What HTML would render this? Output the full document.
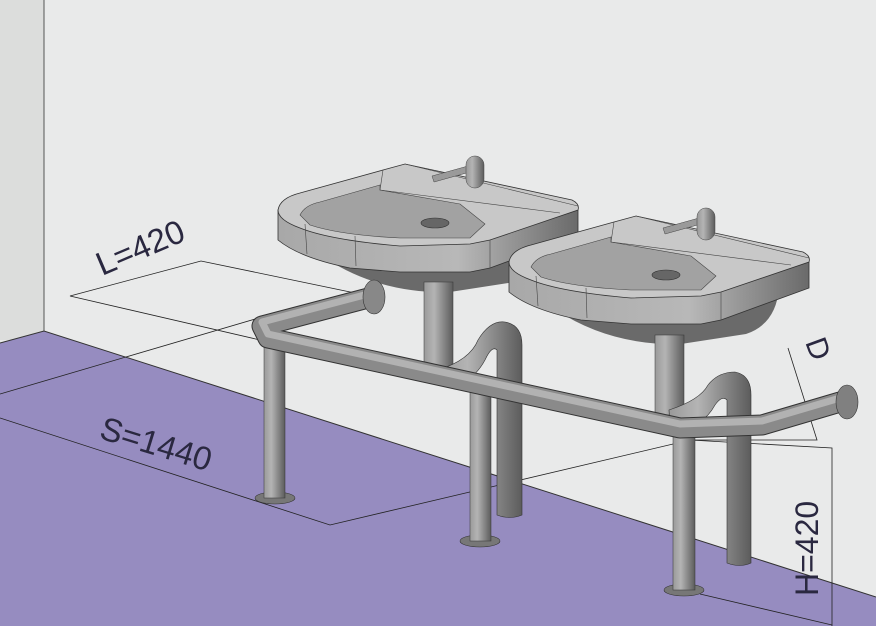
<!DOCTYPE html>
<html><head><meta charset="utf-8"><style>
html,body{margin:0;padding:0;background:#e9eaea}
svg{display:block}
text{font-family:"Liberation Sans",sans-serif;fill:#2a2840}
</style></head><body>
<svg width="876" height="626" viewBox="0 0 876 626" xmlns="http://www.w3.org/2000/svg">
<defs>
<linearGradient id="vg" x1="0" x2="1" y1="0" y2="0">
<stop offset="0" stop-color="#9a9a9a"/><stop offset="0.35" stop-color="#b4b4b4"/><stop offset="1" stop-color="#5c5c5c"/></linearGradient>
<linearGradient id="fr" x1="0" x2="1" y1="0" y2="0">
<stop offset="0" stop-color="#a8a8a8"/><stop offset="0.6" stop-color="#b8b8b8"/><stop offset="1" stop-color="#6a6a6a"/></linearGradient>
<g id="sink">
<path d="M325,258 Q380,294 450,292 L515,282 Q545,272 548,236 L330,248 Z" fill="#6a6a6a"/>
<path d="M278,210 L278,240 Q300,258 350,268 L400,272 L470,272 L490,268 L578,236 L578,206 Z" fill="url(#fr)" stroke="#333" stroke-width="0.8"/>
<path d="M278,210 Q280,198 300,193 L383,170 L405,164 L572,200 Q580,204 578,210 L490,240 L470,244 L400,246 Q330,240 300,228 Q278,220 278,210 Z" fill="#c8c8c8" stroke="#333" stroke-width="0.8"/>
<path d="M300,215 Q305,205 320,202 L380,185 L380,190 L460,204 L485,224 L470,238 L400,238 Q340,235 310,225 Z" fill="#a2a2a2" stroke="#444" stroke-width="0.6"/>
<path d="M383,170 L380,190 L560,213" fill="none" stroke="#444" stroke-width="0.6"/>
<path d="M405,164 L578,206" fill="none" stroke="#444" stroke-width="0.6"/>
<line x1="305" y1="224" x2="307" y2="254" stroke="#444" stroke-width="0.6"/>
<line x1="355" y1="236" x2="356" y2="266" stroke="#444" stroke-width="0.6"/>
<line x1="490" y1="240" x2="490" y2="268" stroke="#444" stroke-width="0.6"/>
<ellipse cx="435" cy="223" rx="14" ry="5" fill="#666" stroke="#333" stroke-width="0.6"/>
<path d="M432,176 L468,166 L470,172 L434,182 Z" fill="#9a9a9a" stroke="#444" stroke-width="0.5"/>
<rect x="466" y="156" width="18" height="32" rx="9" fill="url(#vg)" stroke="#444" stroke-width="0.5"/>
</g>
</defs>
<rect width="876" height="626" fill="#e9eaea"/>
<rect width="44" height="340" fill="#dcdddc"/>
<line x1="44" y1="0" x2="44" y2="331" stroke="#555" stroke-width="1"/>
<polygon points="0,343 44,331 876,597 876,626 0,626" fill="#968cc0"/>
<polyline points="0,343 44,331 876,597" fill="none" stroke="#333" stroke-width="1"/>
<g fill="none" stroke="#222" stroke-width="0.8">
<polyline points="355,293 201,261 70,296 260,340"/>
<line x1="0" y1="394" x2="262" y2="317"/>
<polyline points="0,418 330,525 690,440 832,448 832,626"/>
<line x1="700" y1="594" x2="832" y2="625"/>
<polyline points="788,348 817,440 675,440"/>
</g>
<use href="#sink"/>
<use href="#sink" transform="translate(231,52)"/>
<rect x="424" y="282" width="29" height="96" fill="url(#vg)" stroke="#333" stroke-width="0.5"/>
<path d="M438,370 Q470,360 478,340 Q490,320 505,322 Q522,325 522,345 L522,515 Q510,520 497,515 L497,350 Q492,345 485,360 Q470,388 440,384 Z" fill="url(#vg)" stroke="#333" stroke-width="0.6"/>
<rect x="655" y="335" width="29" height="80" fill="url(#vg)" stroke="#333" stroke-width="0.5"/>
<path d="M669,410 Q700,400 708,385 Q718,372 735,372 Q751,375 751,395 L751,563 Q740,568 727,563 L727,400 Q722,395 715,405 Q700,432 670,426 Z" fill="url(#vg)" stroke="#333" stroke-width="0.6"/>
<ellipse cx="275" cy="498" rx="20" ry="6" fill="#777" stroke="#333" stroke-width="0.6"/>
<rect x="264" y="335" width="21" height="163" fill="url(#vg)" stroke="#333" stroke-width="0.5"/>
<ellipse cx="480" cy="541" rx="20" ry="6" fill="#777" stroke="#333" stroke-width="0.6"/>
<rect x="470" y="385" width="21" height="156" fill="url(#vg)" stroke="#333" stroke-width="0.5"/>
<ellipse cx="684" cy="590" rx="20" ry="6" fill="#777" stroke="#333" stroke-width="0.6"/>
<rect x="673" y="430" width="22" height="160" fill="url(#vg)" stroke="#333" stroke-width="0.5"/>
<g stroke-linecap="round" stroke-linejoin="round" fill="none">
<polyline points="372,297 262,326 268,338 680,428 762,425 840,402" stroke="#333" stroke-width="21"/>
<polyline points="372,297 262,326 268,338 680,428 762,425 840,402" stroke="#8a8a8a" stroke-width="19"/>
<polyline points="372,293 262,322 268,334 680,424 762,421 840,398" stroke="#b2b2b2" stroke-width="7"/>
</g>
<ellipse cx="374" cy="297" rx="11" ry="17" fill="#888" stroke="#333" stroke-width="0.6"/>
<ellipse cx="847" cy="402" rx="11" ry="17" fill="#808080" stroke="#333" stroke-width="0.6"/>
<text x="0" y="0" font-size="33" transform="translate(102,276) rotate(-23)">L=420</text>
<text x="0" y="0" font-size="33" transform="translate(98,438) rotate(17)">S=1440</text>
<text x="0" y="0" font-size="30" transform="translate(805,342) rotate(70)">D</text>
<text x="0" y="0" font-size="32" transform="translate(818,596) rotate(-90)">H=420</text>
</svg>
</body></html>
